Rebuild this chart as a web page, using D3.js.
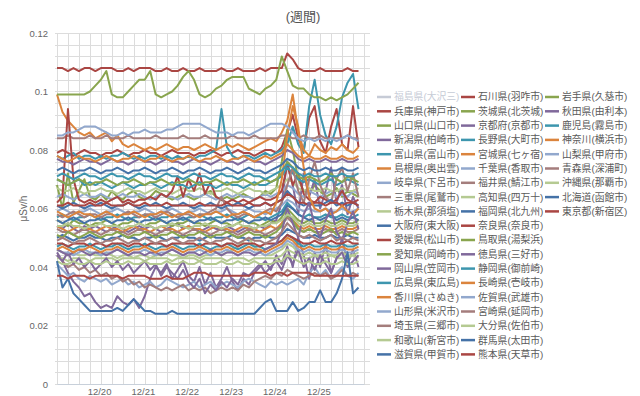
<!DOCTYPE html>
<html>
<head>
<meta charset="utf-8">
<script src="https://cdnjs.cloudflare.com/ajax/libs/d3/7.8.5/d3.min.js"></script>
<style>
  body { margin: 0; background: #fff; }
  svg { font-family: "Liberation Sans", Arial, "Noto Sans CJK JP", sans-serif; }
</style>
</head>
<body>
<div id="chart"></div>
<script>
// readings every 3 hours from 12/19 01:00, in units of 0.001 μSv/h
var startTime = new Date(2012, 11, 19, 1, 0);
var stepHours = 3;
var spanHours = 168;
var unit = 0.001;

var dayLabels = ["12/20", "12/21", "12/22", "12/23", "12/24", "12/25"];
var yTicks = [0, 0.02, 0.04, 0.06, 0.08, 0.1, 0.12];

// column 1
var hyogo = [79,80,79,78,79,80,79,79, 78,79,79,80,79,78,79,79, 80,79,79,78,79,80,79,79, 79,78,79,79,80,79,78,79, 79,80,79,79,78,79,80,80, 79,81,86,92,84,80,91,95, 83,79,88,94,82,80,95,81];
var yamaguchi = [68,60,72,62,66,70,64,63, 65,63,66,64,63,65,66,64, 63,64,66,65,64,63,64,65, 64,63,64,65,66,64,63,64, 63,64,65,64,63,64,66,65, 67,76,87,80,70,66,65,68, 66,64,65,67,64,66,65,64];
var niigata = [54,53,55,53,52,54,53,54, 53,52,53,54,53,52,53,54, 53,54,53,52,53,54,55,53, 54,53,52,53,54,53,53,54, 53,52,53,54,53,54,53,55, 56,62,76,68,58,72,64,70, 60,66,74,62,68,58,64,60];
var toyama = [78,77,78,79,77,78,78,77, 78,77,78,78,79,78,77,78, 77,78,78,77,78,77,78,77, 78,77,78,78,79,80,94,81, 78,77,78,78,77,78,79,78, 79,80,82,88,82,79,95,104, 92,85,82,88,98,103,106,94];
var shimane = [99,93,90,88,86,85,86,84, 85,86,83,85,82,81,82,81, 80,81,80,81,82,81,80,81, 81,80,81,82,81,80,81,82, 81,82,81,80,81,82,83,84, 83,86,90,99,86,80,78,82, 80,79,81,80,82,80,79,81];
var gifu = [64,65,64,63,64,65,64,64, 65,64,63,64,65,64,64,65, 64,63,64,65,64,64,63,64, 65,64,64,65,64,63,64,65, 64,65,64,64,63,64,65,64, 65,66,68,67,65,64,66,65, 64,65,66,64,65,64,66,65];
var mie = [84,84,85,84,84,84,85,84, 84,85,84,84,84,85,84,84, 84,84,85,84,84,84,84,85, 84,84,84,85,84,84,84,84, 85,84,84,84,85,84,84,84, 84,85,85,84,84,85,84,84, 85,84,84,84,84,85,84,84];
var tochigi = [67,66,66,67,66,65,66,66, 67,66,66,65,66,67,66,66, 65,66,67,66,66,65,66,67, 66,66,67,66,65,66,66,67, 66,65,66,67,66,66,65,66, 67,68,70,69,67,66,67,66, 66,67,66,66,67,66,66,67];
var osaka = [50,51,50,49,50,50,51,50, 50,49,50,50,51,50,50,49, 50,50,51,50,49,50,50,51, 50,50,49,50,51,50,50,50, 51,50,50,49,50,50,51,50, 50,51,53,52,51,50,50,51, 50,50,51,50,50,51,50,50];
var ehime = [62,64,94,70,63,62,63,62, 63,62,63,64,62,63,62,63, 63,64,63,65,64,66,71,64, 70,66,72,65,69,64,63,62, 63,62,63,62,63,64,63,63, 64,66,75,68,72,65,63,62, 64,63,62,63,66,63,62,63];
var aichi = [56,55,54,56,55,55,54,55, 55,56,55,54,55,55,56,55, 54,55,55,56,55,54,55,55, 56,55,55,54,55,56,55,55, 54,55,56,55,55,54,55,56, 55,57,60,58,56,55,56,55, 55,56,55,55,56,55,55,56];
var okayama = [45,42,38,35,33,30,31,28, 26,27,26,30,28,27,29,26, 30,36,40,38,41,36,39,42, 37,35,40,34,38,33,36,40, 35,32,36,34,38,40,42,39, 44,41,47,40,50,44,36,45, 40,48,38,43,50,41,46,40];
var hiroshima = [57,58,57,56,57,57,58,57, 56,57,57,58,57,56,57,57, 58,57,56,57,57,58,57,56, 57,57,58,57,56,57,57,58, 57,56,57,58,57,57,56,57, 58,59,62,60,58,57,58,57, 57,58,57,57,58,57,57,58];
var kagawa = [54,53,52,53,54,53,53,52, 53,54,53,53,52,53,54,53, 53,52,53,54,53,53,52,53, 54,53,53,52,53,54,53,53, 52,53,54,53,53,52,53,54, 53,55,58,56,54,53,54,53, 53,54,53,53,54,53,53,54];
var yamagata = [41,39,37,38,36,35,37,36, 35,36,34,35,36,34,35,33, 34,35,33,34,36,35,34,33, 34,35,33,34,35,33,34,35, 34,33,35,36,35,34,33,35, 34,35,34,35,36,34,38,40, 37,39,36,38,40,37,36,38];
var saitama = [44,42,40,41,39,40,38,39, 37,38,36,37,35,36,34,35, 33,34,33,32,33,32,33,34, 32,33,32,33,31,32,33,32, 33,32,34,33,35,36,37,36, 38,37,39,38,37,36,37,38, 37,38,36,37,39,37,38,37];
var wakayama = [46,45,44,45,44,44,45,44, 44,45,44,43,44,44,43,44, 44,43,44,44,45,44,44,43, 44,44,43,44,44,45,44,45, 46,47,49,50,47,45,44,44, 45,46,48,47,45,44,45,44, 44,45,44,44,45,44,44,45];
var shiga = [56,55,56,57,56,55,56,56, 57,56,55,56,56,57,56,55, 56,56,57,56,55,56,56,57, 56,55,56,56,57,56,55,56, 56,57,56,55,56,56,57,56, 57,58,61,60,58,57,56,57, 56,57,58,56,57,56,57,56];

// column 2
var ishikawa = [108,108,107,108,107,108,108,107, 108,108,108,107,107,108,107,108, 108,108,107,107,108,107,107,108, 107,107,108,107,107,107,108,107, 107,108,107,107,107,108,107,108, 108,108,113,111,108,107,107,107, 108,107,107,107,107,108,107,107];
var ibaraki = [99,99,99,99,99,99,100,102, 104,107,99,98,98,100,102,104, 104,107,99,98,99,100,102,105, 107,104,99,98,99,101,102,104, 105,105,105,101,100,99,101,102, 104,112,107,102,101,101,99,98, 98,97,98,97,98,99,101,103];
var kyoto = [77,76,76,75,76,77,76,76, 75,76,77,76,76,75,76,77, 76,76,75,76,77,76,76,75, 76,77,76,76,75,76,77,76, 76,75,76,77,76,76,75,76, 77,78,80,79,77,76,77,76, 76,77,76,76,77,76,76,77];
var nagano = [70,69,68,69,70,68,69,68, 69,68,67,68,69,68,67,68, 68,69,68,67,68,69,68,68, 67,68,69,68,68,67,68,69, 68,68,67,68,69,68,68,69, 70,71,74,72,70,69,70,69, 68,69,70,68,69,70,69,68];
var miyagi = [78,77,76,77,78,77,77,76, 77,78,77,76,77,77,78,77, 76,77,77,78,77,76,77,77, 78,77,76,77,77,78,77,76, 77,77,78,77,76,77,78,77, 78,79,82,80,78,77,78,77, 77,78,77,77,78,77,77,78];
var chiba = [59,60,59,58,59,59,60,59, 58,59,59,60,59,58,59,59, 60,59,58,59,59,60,59,58, 59,59,60,59,58,59,59,60, 59,58,59,60,59,59,58,59, 60,61,63,62,60,59,60,59, 59,60,59,59,60,59,59,60];
var fukui = [58,57,58,59,58,57,58,58, 57,58,58,57,58,59,58,57, 58,58,57,58,59,58,57,58, 58,57,58,58,59,60,64,60, 58,57,58,58,57,58,59,60, 59,62,68,74,66,62,70,76, 68,64,62,70,74,66,72,64];
var kochi = [43,43,42,43,43,43,42,43, 43,43,43,42,43,43,43,43, 42,43,43,43,43,42,43,43, 43,43,42,43,43,43,43,42, 43,43,43,42,43,43,43,43, 43,44,46,45,44,43,43,44, 43,43,44,43,43,43,44,43];
var fukuoka = [61,60,61,62,61,60,61,61, 62,61,60,61,61,62,61,60, 61,61,62,61,60,61,61,62, 61,60,61,61,62,61,60,61, 61,62,61,60,61,61,62,61, 62,63,66,64,62,61,62,61, 61,62,63,61,62,61,62,61];
var nara = [61,61,62,61,61,61,62,61, 61,62,61,61,61,62,61,61, 62,61,61,61,62,61,61,61, 61,61,62,61,61,61,61,62, 61,61,61,62,61,61,62,61, 62,63,65,64,62,62,61,62, 62,61,62,62,61,62,62,61];
var tottori = [70,69,68,69,70,69,68,69, 69,70,69,68,69,69,70,69, 68,69,69,70,69,68,69,69, 70,69,68,69,69,70,69,68, 69,69,70,69,68,69,70,69, 70,72,76,74,71,70,71,70, 69,70,72,70,69,71,70,69];
var tokushima = [44,42,45,41,43,40,42,39, 41,43,40,42,39,41,38,40, 42,39,41,37,40,38,36,39, 35,33,36,31,34,32,35,33, 36,34,38,37,39,41,38,40, 42,39,44,41,46,40,43,39, 44,41,38,43,45,40,42,44];
var shizuoka = [47,48,47,46,47,47,48,47, 46,47,47,48,47,46,47,47, 48,47,46,47,47,48,47,46, 47,47,48,47,46,47,47,48, 47,46,47,48,47,47,46,47, 48,49,51,50,48,47,48,47, 47,48,47,47,48,47,47,48];
var nagasaki = [59,58,57,58,59,58,58,57, 58,59,58,57,58,58,59,58, 57,58,58,59,58,57,58,58, 59,58,57,58,58,59,58,57, 58,58,59,58,57,58,59,58, 62,70,85,95,88,74,64,60, 59,60,58,59,61,59,58,60];
var saga = [46,45,45,44,45,46,45,45, 44,45,45,46,45,44,45,45, 46,45,44,45,45,46,45,44, 45,45,46,45,44,45,45,46, 45,44,45,46,45,45,44,45, 46,47,49,48,46,45,46,45, 45,46,45,45,46,45,45,46];
var miyazaki = [53,52,52,51,52,53,52,52, 51,52,53,52,52,51,52,53, 52,52,51,52,53,52,52,51, 52,53,52,52,51,52,53,52, 52,51,52,53,52,52,51,52, 53,54,57,55,53,52,53,52, 52,53,52,52,53,52,52,53];
var oita = [42,41,41,42,41,41,42,41, 41,42,41,41,41,42,41,41, 42,41,41,41,42,41,41,42, 41,41,42,41,41,41,42,41, 41,42,41,41,42,41,41,41, 42,42,44,43,42,41,42,41, 41,42,41,41,42,41,41,42];
var gunma = [73,74,73,72,73,73,74,73, 72,73,73,74,73,72,73,73, 74,73,72,73,73,74,73,72, 73,73,74,73,72,73,73,74, 73,72,73,74,73,73,72,73, 74,75,77,76,74,73,74,73, 73,74,73,73,74,73,73,74];
var kumamoto = [48,48,47,48,48,48,47,48, 48,47,48,48,48,47,48,48, 47,48,48,48,47,48,48,48, 48,48,47,48,48,48,47,48, 48,47,48,48,48,47,48,48, 48,49,51,50,49,48,48,49, 48,48,49,48,48,49,48,48];

// column 3
var iwate = [51,50,52,51,50,51,52,51, 50,51,51,52,51,50,51,51, 52,51,50,51,51,52,51,50, 51,51,52,51,50,51,51,52, 51,50,51,52,51,51,50,51, 52,54,58,56,53,52,53,52, 51,52,53,51,52,51,52,51];
var akita = [46,45,44,45,46,45,44,45, 45,44,45,46,45,44,45,45, 44,45,45,44,45,46,45,44, 45,45,44,45,46,45,44,45, 45,44,45,45,44,45,46,47, 48,52,60,55,50,58,62,54, 50,56,60,52,49,55,59,53];
var kagoshima = [71,72,71,70,71,72,71,71, 70,71,72,71,71,70,71,72, 71,71,70,71,72,71,71,70, 71,72,71,71,70,71,72,71, 71,70,71,72,71,71,70,71, 72,73,75,74,72,71,72,71, 71,72,71,71,72,71,71,72];
var kanagawa = [46,47,46,45,46,46,47,46, 45,46,46,47,46,45,46,46, 47,46,45,46,46,47,46,45, 46,46,47,46,45,46,46,47, 46,45,46,47,46,46,45,46, 47,48,50,49,47,46,47,46, 46,47,46,46,47,46,46,47];
var yamanashi = [85,85,86,86,87,88,88,88, 87,86,85,85,86,85,86,86, 87,86,86,86,87,87,88,89, 89,89,89,88,87,86,86,86, 85,86,86,85,86,87,88,89, 89,89,88,86,84,83,84,83, 84,83,84,83,84,85,84,83];
var aomori = [49,50,49,48,49,49,50,49, 48,49,49,50,49,48,49,49, 50,49,48,49,49,50,49,48, 49,49,50,49,48,49,49,50, 49,48,49,50,49,49,48,49, 50,52,55,53,51,50,51,50, 49,50,51,49,50,49,50,49];
var okinawa = [54,54,55,54,54,53,54,54, 55,54,54,54,53,54,54,55, 54,54,53,54,54,55,54,54, 53,54,54,55,54,54,53,54, 54,55,54,54,53,54,54,55, 55,56,58,57,55,54,55,54, 54,55,54,54,55,54,54,55];
var hokkaido = [42,33,36,31,29,27,25,25, 25,25,25,26,25,27,29,27, 25,25,24,24,24,25,24,24, 24,24,24,24,24,24,24,24, 24,24,24,24,24,26,28,29, 25,25,25,28,25,26,28,28, 32,28,28,31,36,45,31,33];
var tokyo = [37,37,36,37,37,37,36,37, 37,37,37,37,36,37,37,37, 37,36,36,36,37,36,36,36, 37,38,38,38,37,37,37,37, 37,37,37,37,38,38,38,37, 38,38,37,38,38,38,38,37, 37,37,37,37,37,37,37,37];

// legend order (column by column); first series is switched off in the original
var seriesList = [
  ["福島県(大沢三)", null], ["兵庫県(神戸市)", hyogo], ["山口県(山口市)", yamaguchi],
  ["新潟県(柏崎市)", niigata], ["富山県(富山市)", toyama], ["島根県(奥出雲)", shimane],
  ["岐阜県(下呂市)", gifu], ["三重県(尾鷲市)", mie], ["栃木県(那須塩)", tochigi],
  ["大阪府(東大阪)", osaka], ["愛媛県(松山市)", ehime], ["愛知県(岡崎市)", aichi],
  ["岡山県(笠岡市)", okayama], ["広島県(東広島)", hiroshima], ["香川県(さぬき)", kagawa],
  ["山形県(米沢市)", yamagata], ["埼玉県(三郷市)", saitama], ["和歌山(新宮市)", wakayama],
  ["滋賀県(甲賀市)", shiga],
  ["石川県(羽咋市)", ishikawa], ["茨城県(北茨城)", ibaraki], ["京都府(京都市)", kyoto],
  ["長野県(大町市)", nagano], ["宮城県(七ヶ宿)", miyagi], ["千葉県(香取市)", chiba],
  ["福井県(鯖江市)", fukui], ["高知県(四万十)", kochi], ["福岡県(北九州)", fukuoka],
  ["奈良県(奈良市)", nara], ["鳥取県(湯梨浜)", tottori], ["徳島県(三好市)", tokushima],
  ["静岡県(御前崎)", shizuoka], ["長崎県(壱岐市)", nagasaki], ["佐賀県(武雄市)", saga],
  ["宮崎県(延岡市)", miyazaki], ["大分県(佐伯市)", oita], ["群馬県(太田市)", gunma],
  ["熊本県(天草市)", kumamoto],
  ["岩手県(久慈市)", iwate], ["秋田県(由利本)", akita], ["鹿児島(霧島市)", kagoshima],
  ["神奈川(横浜市)", kanagawa], ["山梨県(甲府市)", yamanashi], ["青森県(深浦町)", aomori],
  ["沖縄県(那覇市)", okinawa], ["北海道(函館市)", hokkaido], ["東京都(新宿区)", tokyo]
];

var palette = ["#4572A7", "#AA4643", "#89A54E", "#80699B", "#3D96AE", "#DB843D", "#92A8CD", "#A47D7C", "#B5CA92"];
var hiddenColor = "#c6cbd6";

var W = 640, H = 396;
var plot = {left: 57, right: 364, top: 33, bottom: 384};

var svg = d3.select("#chart").append("svg")
  .attr("width", W)
  .attr("height", H);

var hour = 3600 * 1000;
var x = d3.scaleTime()
  .domain([startTime, new Date(+startTime + spanHours * hour)])
  .range([plot.left, plot.right]);
var y = d3.scaleLinear()
  .domain([0, 0.12])
  .range([plot.bottom, plot.top]);

// grid: every 6 hours and every 0.004
var vGrid = d3.range(0, spanHours + 1, 6).map(h => new Date(+startTime + h * hour));
var hGrid = d3.range(0, 31).map(i => i * 0.004);

svg.append("g").selectAll("line").data(vGrid).join("line")
  .attr("x1", d => Math.round(x(d)) + 0.5).attr("x2", d => Math.round(x(d)) + 0.5)
  .attr("y1", plot.top).attr("y2", plot.bottom)
  .attr("stroke", "#dcdcdc");
svg.append("g").selectAll("line").data(hGrid).join("line")
  .attr("x1", plot.left - 2).attr("x2", plot.right + 6)
  .attr("y1", d => Math.round(y(d)) + 0.5).attr("y2", d => Math.round(y(d)) + 0.5)
  .attr("stroke", "#dcdcdc");

// axes
var dayTicks = dayLabels.map(function(s) {
  var p = s.split("/");
  return new Date(startTime.getFullYear(), +p[0] - 1, +p[1]);
});
var xAxis = svg.append("g")
  .attr("transform", `translate(0,${plot.bottom})`)
  .call(d3.axisBottom(x).tickValues(dayTicks).tickFormat((d, i) => dayLabels[i]).tickSize(0).tickPadding(4));
xAxis.select(".domain").attr("stroke", "#c8d0da");

var yAxis = svg.append("g")
  .attr("transform", `translate(${plot.left},0)`)
  .call(d3.axisLeft(y).tickValues(yTicks).tickFormat(d => d === 0 ? "0" : String(+d.toFixed(2))).tickSize(0).tickPadding(9));
yAxis.select(".domain").remove();

svg.selectAll(".tick text")
  .attr("fill", "#666")
  .style("font-size", "9.5px")
  .style("font-family", '"Liberation Sans", Arial, sans-serif');

svg.append("text")
  .attr("transform", `translate(23,${(plot.top + plot.bottom) / 2}) rotate(-90)`)
  .attr("text-anchor", "middle")
  .attr("dy", "0.35em")
  .attr("fill", "#666")
  .style("font-size", "10px")
  .text("μSv/h");

svg.append("text")
  .attr("x", 303)
  .attr("y", 16)
  .attr("dy", "0.35em")
  .attr("text-anchor", "middle")
  .attr("fill", "#555")
  .style("font-size", "13px")
  .text("(週間)");

// lines
var line = d3.line()
  .x((d, i) => x(new Date(+startTime + i * stepHours * hour)))
  .y(d => y(d * unit));

svg.append("g").selectAll("path")
  .data(seriesList.map((s, i) => ({name: s[0], values: s[1], color: palette[i % palette.length]})).filter(s => s.values))
  .join("path")
  .attr("d", d => line(d.values))
  .attr("fill", "none")
  .attr("stroke", d => d.color)
  .attr("stroke-width", 2)
  .attr("stroke-linejoin", "round");

// legend
var legend = svg.append("g");
var rowH = 14.3, colW = 84;
var items = legend.selectAll("g").data(seriesList).join("g")
  .attr("transform", (d, i) => `translate(${377 + Math.floor(i / 19) * colW},${97 + (i % 19) * rowH})`);
items.append("line")
  .attr("x1", 0).attr("x2", 14)
  .attr("stroke", (d, i) => d[1] ? palette[i % palette.length] : hiddenColor)
  .attr("stroke-width", 2.5);
items.append("text")
  .attr("x", 17)
  .attr("dy", "0.35em")
  .attr("fill", d => d[1] ? "#5a5a5a" : hiddenColor)
  .style("font-size", "9.8px")
  .text(d => d[0]);
</script>
</body>
</html>
